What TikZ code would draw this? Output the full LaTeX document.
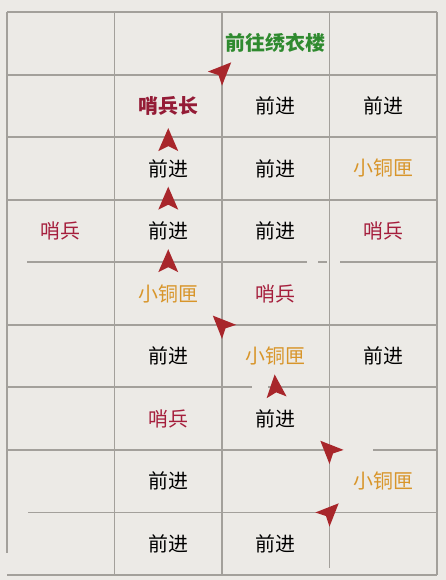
\documentclass[tikz,border=0pt]{standalone}
\usepackage{fontspec}
\newfontfamily\cjk{Noto Sans CJK SC}
\usetikzlibrary{calc}

\definecolor{bgpaper}{HTML}{ECEAE6}
\definecolor{gridgray}{HTML}{A3A09B}
\definecolor{arrowred}{HTML}{A8262B}
\definecolor{guardred}{HTML}{A51E3C}
\definecolor{chestgold}{HTML}{D8952A}
\definecolor{goalgreen}{HTML}{2F8A2F}

% filled dart marker: position, angle
\newcommand{\pathmark}[2]{%
  \fill[arrowred, shift={(#1)}, rotate=#2]
    (13,0) -- (-10,10) -- (-5,0) -- (-10,-10) -- cycle;}

\begin{document}
\begin{tikzpicture}[x=0.03cm, y=-0.03cm,
    gridline/.style={gridgray, line width=1.6pt},
    cell/.style={font=\cjk\fontsize{17}{19}\selectfont},
    walk/.style={cell, black},
    guard/.style={cell, guardred},
    boss/.style={cell, guardred!90!black, font=\cjk\bfseries\fontsize{17}{19}\selectfont},
    chest/.style={cell, chestgold},
    goal/.style={cell, goalgreen, font=\cjk\bfseries\fontsize{17}{19}\selectfont}]

  % Paper background
  \fill[bgpaper] (0,0) rectangle (446,580);
  \useasboundingbox (0,0) rectangle (446,580);

  % Grid: 4 columns, 9 rows (some lines are worn through)
  \foreach \r in {0,1,2,3,5,9}
    \draw[gridline] (7,{12+62.56*\r}) -- (437,{12+62.56*\r});
  \draw[gridline] (27,262.24) -- (307,262.24) (318,262.24) -- (327,262.24)
                  (340,262.24) -- (437,262.24);
  \draw[gridline] (7,387.36) -- (252,387.36) (268,387.36) -- (437,387.36);
  \draw[gridline] (7,449.92) -- (340,449.92) (373,449.92) -- (437,449.92);
  \draw[gridline] (28,512.48) -- (437,512.48);
  \draw[gridline] (7,12) -- (7,553);
  \foreach \c in {1,2,4}
    \draw[gridline] ({7+107.5*\c},12) -- ({7+107.5*\c},575);
  \draw[gridline] (329.5,12) -- (329.5,568);

  % Row 1
  \node[goal] (c-1-3) at (275.75,43.28) {前往绣衣楼};

  % Row 2
  \node[boss] (c-2-2) at (168.25,105.84) {哨兵长};
  \node[walk] (c-2-3) at (275.75,105.84) {前进};
  \node[walk] (c-2-4) at (383.25,105.84) {前进};

  % Row 3
  \node[walk] (c-3-2) at (168.25,168.4) {前进};
  \node[walk] (c-3-3) at (275.75,168.4) {前进};
  \node[chest] (c-3-4) at (383.25,168.4) {小铜匣};

  % Row 4
  \node[guard] (c-4-1) at (60.75,230.96) {哨兵};
  \node[walk] (c-4-2) at (168.25,230.96) {前进};
  \node[walk] (c-4-3) at (275.75,230.96) {前进};
  \node[guard] (c-4-4) at (383.25,230.96) {哨兵};

  % Row 5
  \node[chest] (c-5-2) at (168.25,293.52) {小铜匣};
  \node[guard] (c-5-3) at (275.75,293.52) {哨兵};

  % Row 6
  \node[walk] (c-6-2) at (168.25,356.08) {前进};
  \node[chest] (c-6-3) at (275.75,356.08) {小铜匣};
  \node[walk] (c-6-4) at (383.25,356.08) {前进};

  % Row 7
  \node[guard] (c-7-2) at (168.25,418.64) {哨兵};
  \node[walk] (c-7-3) at (275.75,418.64) {前进};

  % Row 8
  \node[walk] (c-8-2) at (168.25,481.2) {前进};
  \node[chest] (c-8-4) at (383.25,481.2) {小铜匣};

  % Row 9
  \node[walk] (c-9-2) at (168.25,543.76) {前进};
  \node[walk] (c-9-3) at (275.75,543.76) {前进};

  % Route markers, halfway between cells
  \pathmark{$(c-9-3)!0.5!(c-8-4)$}{45}
  \pathmark{$(c-8-4)!0.5!(c-7-3)$}{135}
  \pathmark{$(c-7-3)!0.5!(c-6-3)$}{95}
  \pathmark{$(c-6-3)!0.5!(c-5-2)$}{135}
  \pathmark{$(c-5-2)!0.5!(c-4-2)$}{90}
  \pathmark{$(c-4-2)!0.5!(c-3-2)$}{90}
  \pathmark{$(c-3-2)!0.5!(c-2-2)+(0,4)$}{90}
  \pathmark{$(c-2-2)!0.5!(c-1-3)+(0,-3)$}{45}
\end{tikzpicture}
\end{document}
